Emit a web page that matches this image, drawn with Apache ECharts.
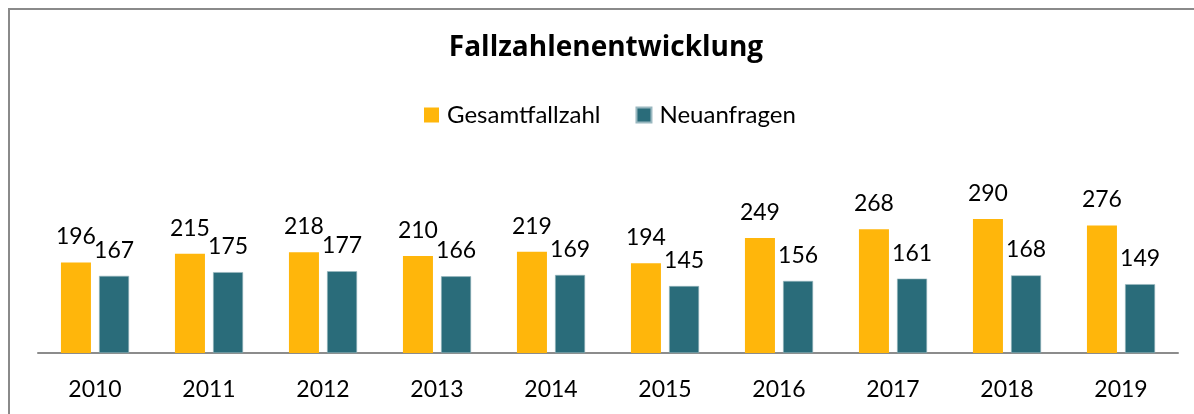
<!DOCTYPE html>
<html>
<head>
<meta charset="utf-8">
<script src="https://cdn.jsdelivr.net/npm/echarts@6/dist/echarts.min.js"></script>
<style>
  html, body { margin: 0; padding: 0; background: #fff; overflow: hidden; }
  #frame { position: absolute; left: 8px; top: 8px; width: 1300px; height: 500px;
           border-left: 2px solid #8a8a8a; border-top: 2px solid #8a8a8a; }
  #chart { position: absolute; left: 0; top: 0; width: 1194px; height: 414px; }
</style>
</head>
<body>
<div id="frame"></div>
<div id="chart"></div>
<script>
// Fallzahlen je Jahr
var jahre = ['2010', '2011', '2012', '2013', '2014', '2015', '2016', '2017', '2018', '2019'];
var gesamtfallzahl = [196, 215, 218, 210, 219, 194, 249, 268, 290, 276];
var neuanfragen = [167, 175, 177, 166, 169, 145, 156, 161, 168, 149];

var schrift = 'Lato';
var labelStyle = {
    show: true,
    position: 'top',
    distance: 14,
    color: '#000',
    fontFamily: schrift,
    fontSize: 23
};

var myChart = echarts.init(document.getElementById('chart'));
var option = {
    animation: false,
    title: {
        text: 'Fallzahlenentwicklung',
        left: 606,
        textAlign: 'center',
        top: 34,
        padding: 0,
        textStyle: { fontFamily: 'Open Sans', fontWeight: 'bold', fontSize: 28, color: '#000' }
    },
    legend: {
        left: 424,
        top: 103,
        padding: 0,
        itemWidth: 15,
        itemHeight: 15,
        itemGap: 35,
        icon: 'rect',
        textStyle: { fontFamily: schrift, fontSize: 24, color: '#000', padding: [0, 0, 0, 3] },
        data: ['Gesamtfallzahl', 'Neuanfragen']
    },
    grid: { left: 38, right: 16, top: 214.4, bottom: 61, containLabel: false },
    xAxis: {
        type: 'category',
        data: jahre,
        axisLine: { lineStyle: { color: '#8c8c8c', width: 2 } },
        axisTick: { show: false },
        axisLabel: { color: '#000', fontFamily: schrift, fontSize: 23, margin: 25 }
    },
    yAxis: {
        type: 'value',
        min: 0,
        max: 300,
        show: false
    },
    series: [
        {
            name: 'Gesamtfallzahl',
            type: 'bar',
            data: gesamtfallzahl,
            barWidth: 30,
            barGap: '27%',
            itemStyle: { color: '#ffb60b' },
            label: labelStyle
        },
        {
            name: 'Neuanfragen',
            type: 'bar',
            data: neuanfragen,
            barWidth: 30,
            itemStyle: { color: '#2a6c7a', borderColor: '#9ab8c0', borderWidth: 0.6 },
            label: labelStyle
        }
    ]
};
myChart.setOption(option, true);
</script>
</body>
</html>
